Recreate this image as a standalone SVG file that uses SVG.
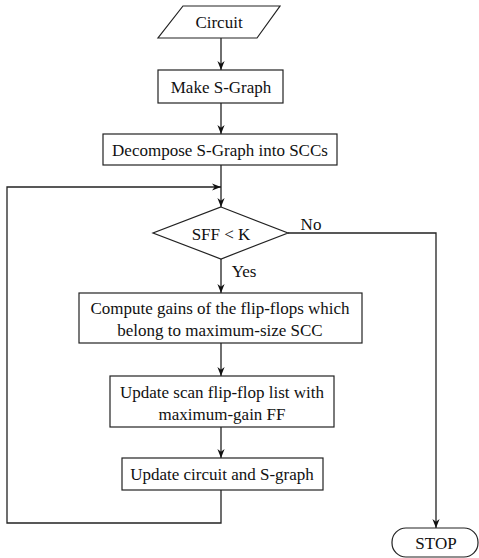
<svg xmlns="http://www.w3.org/2000/svg" width="479" height="558" viewBox="0 0 479 558">
<defs>
<marker id="ah" viewBox="0 0 10 10" refX="10" refY="5" markerWidth="9" markerHeight="9" markerUnits="userSpaceOnUse" orient="auto">
<path d="M0,1 L10,5 L0,9 L3,5 Z" fill="#111"/>
</marker>
</defs>
<style>
.s{fill:#fff;stroke:#222;stroke-width:1.2}
.t{font-family:"Liberation Serif","Times New Roman",serif;font-size:17px;fill:#111;text-anchor:middle;dominant-baseline:central}
.c{fill:none;stroke:#222;stroke-width:1.3}
</style>
<rect width="479" height="558" fill="#fff"/>
<g id="connectors">
<path class="c" d="M221,38 V70" marker-end="url(#ah)"/>
<path class="c" d="M221,103 V134" marker-end="url(#ah)"/>
<path class="c" d="M221,165 V207" marker-end="url(#ah)"/>
<path class="c" d="M221,490 V523 H7 V187 H221" marker-end="url(#ah)"/>
<path class="c" d="M221,259 V293" marker-end="url(#ah)"/>
<text class="t" x="244" y="271">Yes</text>
<path class="c" d="M288,233 H436 V528" marker-end="url(#ah)"/>
<text class="t" x="311" y="224">No</text>
<path class="c" d="M221,343 V376" marker-end="url(#ah)"/>
<path class="c" d="M221,427 V458" marker-end="url(#ah)"/>
</g>
<g id="circuit">
<path class="s" d="M183,6 H280 L257,38 H158 Z"/>
<text class="t" x="219" y="22">Circuit</text>
</g>
<g id="make">
<rect class="s" x="158" y="70" width="125" height="33"/>
<text class="t" x="221" y="87">Make S-Graph</text>
</g>
<g id="decompose">
<rect class="s" x="103" y="134" width="234" height="31"/>
<text class="t" x="220" y="150">Decompose S-Graph into SCCs</text>
</g>
<g id="decision">
<path class="s" d="M221,207 L288,233 L221,259 L153,233 Z"/>
<text class="t" x="221" y="234">SFF &lt; K</text>
</g>
<g id="compute">
<rect class="s" x="79" y="293" width="283" height="50"/>
<text class="t" x="220" y="308">Compute gains of the flip-flops which</text>
<text class="t" x="220" y="330">belong to maximum-size SCC</text>
</g>
<g id="updatescan">
<rect class="s" x="110" y="376" width="224" height="51"/>
<text class="t" x="222" y="392">Update scan flip-flop list with</text>
<text class="t" x="222" y="414">maximum-gain FF</text>
</g>
<g id="updatecircuit">
<rect class="s" x="122" y="458" width="201" height="32"/>
<text class="t" x="222" y="474">Update circuit and S-graph</text>
</g>
<g id="stop">
<rect class="s" x="392" y="528" width="86" height="29" rx="14" ry="14"/>
<text class="t" x="436" y="543">STOP</text>
</g>
</svg>
